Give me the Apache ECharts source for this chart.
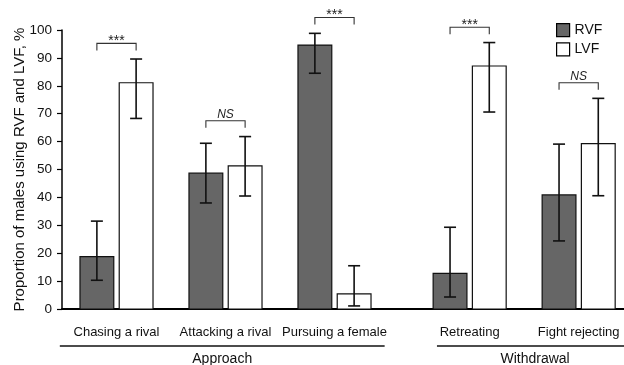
<!DOCTYPE html>
<html>
<head>
<meta charset="utf-8">
<script src="https://cdn.jsdelivr.net/npm/echarts@6/dist/echarts.min.js"></script>
<style>html,body{margin:0;padding:0;background:#fff;}#c{width:624px;height:365px;}</style>
</head>
<body>
<div id="c"></div>
<script>
// ---- data ----
const categories = ['Chasing a rival', 'Attacking a rival', 'Pursuing a female', 'Retreating', 'Fight rejecting'];
const rvf      = [18.8, 48.7, 94.6, 12.8, 40.9];
const rvfLow   = [10.3, 38.0, 84.5, 4.3, 24.4];
const rvfHigh  = [31.5, 59.4, 98.8, 29.3, 59.1];
const lvf      = [81.1, 51.3, 5.4, 87.1, 59.3];
const lvfLow   = [68.3, 40.5, 1.1, 70.6, 40.6];
const lvfHigh  = [89.6, 61.8, 15.5, 95.5, 75.5];
const sigLabels = ['***', 'NS', '***', '***', 'NS'];
const sigLevels = [95.2, 67.5, 104.5, 101.0, 81.1];
const groupNames = ['Approach', 'Withdrawal'];
const groupFirst = [0, 3];
const groupLast = [2, 4];
const yTickMin = 0, yTickMax = 100, yTickStep = 10;

// ---- layout ----
const GROUP_GAP = 0.24;
const groupLineLeft = [0.52, 0.30];
const groupLineRight = [0.46, 0.50];
const BAR_OFF = 0.18, BAR_W = 0.31;
const FONT = "'Liberation Sans', Arial, Helvetica, sans-serif";
function pos(i) { return i + 0.5 + (i >= 3 ? GROUP_GAP : 0); }
const positions = categories.map((c, i) => pos(i));

function barSeries(name, vals, lows, highs, side, color) {
  return {
    name: name,
    type: 'custom',
    clip: false,
    itemStyle: { color: color, borderColor: '#000', borderWidth: 1.2 },
    data: vals.map((v, i) => [pos(i), v, lows[i], highs[i]]),
    renderItem: function (params, api) {
      const unit = api.size([1, 0])[0];
      const top = api.coord([api.value(0), api.value(1)]);
      const base = api.coord([api.value(0), 0]);
      const cx = top[0] + side * BAR_OFF * unit;
      const w = BAR_W * unit;
      const hi = api.coord([api.value(0), api.value(3)])[1];
      const lo = api.coord([api.value(0), api.value(2)])[1];
      const cap = 6;
      const ls = { stroke: '#111', lineWidth: 1.6 };
      return {
        type: 'group',
        children: [
          { type: 'rect', shape: { x: cx - w / 2, y: top[1], width: w, height: base[1] - top[1] },
            style: { fill: color, stroke: '#111', lineWidth: 1.2 } },
          { type: 'line', shape: { x1: cx, y1: hi, x2: cx, y2: lo }, style: ls },
          { type: 'line', shape: { x1: cx - cap, y1: hi, x2: cx + cap, y2: hi }, style: ls },
          { type: 'line', shape: { x1: cx - cap, y1: lo, x2: cx + cap, y2: lo }, style: ls }
        ]
      };
    }
  };
}

const chart = echarts.init(document.getElementById('c'), null, { renderer: 'canvas' });
chart.setOption({
  animation: false,
  backgroundColor: '#fff',
  textStyle: { fontFamily: FONT },
  grid: { left: 62, right: 0, top: 30, bottom: 56, containLabel: false },
  legend: {
    orient: 'vertical', left: 551, top: 18, itemWidth: 13, itemHeight: 13, itemGap: 5,
    textStyle: { fontSize: 14, color: '#111', fontFamily: FONT },
    data: [
      { name: 'RVF', icon: 'rect', itemStyle: { color: '#666', borderColor: '#000', borderWidth: 1.2 } },
      { name: 'LVF', icon: 'rect', itemStyle: { color: '#fff', borderColor: '#000', borderWidth: 1.2 } }
    ]
  },
  xAxis: {
    type: 'value', min: 0, max: 562 / 109,
    axisLine: { show: true, lineStyle: { color: '#000', width: 2 } },
    axisTick: { show: false },
    splitLine: { show: false },
    axisLabel: {
      customValues: positions,
      margin: 17, fontSize: 13, color: '#111', fontFamily: FONT,
      formatter: function (v) {
        let best = 0;
        positions.forEach((p, i) => { if (Math.abs(p - v) < Math.abs(positions[best] - v)) best = i; });
        return categories[best];
      }
    }
  },
  yAxis: {
    type: 'value', min: yTickMin, max: yTickMax, interval: yTickStep,
    name: 'Proportion of males using RVF and LVF, %',
    nameLocation: 'middle', nameRotate: 90, nameGap: 35, nameMoveOverlap: false,
    nameTextStyle: { fontSize: 15, color: '#111', fontFamily: FONT },
    axisLine: { show: true, lineStyle: { color: '#000', width: 1.5 } },
    axisTick: { show: true, inside: false, length: 5, lineStyle: { color: '#000', width: 1.2 } },
    splitLine: { show: false },
    axisLabel: { fontSize: 13.5, color: '#111', margin: 10, fontFamily: FONT }
  },
  series: [
    barSeries('RVF', rvf, rvfLow, rvfHigh, -1, '#666'),
    barSeries('LVF', lvf, lvfLow, lvfHigh, 1, '#fff'),
    {
      type: 'custom', name: 'sig', clip: false, silent: true,
      data: sigLevels.map((lv, i) => [pos(i), lv, i]),
      renderItem: function (params, api) {
        const unit = api.size([1, 0])[0];
        const p = api.coord([api.value(0), api.value(1)]);
        const x1 = p[0] - BAR_OFF * unit, x2 = p[0] + BAR_OFF * unit;
        const y = p[1], drop = 7;
        const label = sigLabels[api.value(2)];
        const isStar = label === '***';
        const ls = { stroke: '#333', lineWidth: 1.1, fill: null };
        return {
          type: 'group',
          children: [
            { type: 'polyline', shape: { points: [[x1, y + drop], [x1, y], [x2, y], [x2, y + drop]] }, style: ls },
            { type: 'text', style: {
                text: label, x: p[0], y: isStar ? y - 2 : y - 6.5, align: 'center', verticalAlign: 'middle',
                font: (isStar ? 'normal 14px ' : 'italic 12px ') + FONT, fill: '#222' } }
          ]
        };
      }
    },
    {
      type: 'custom', name: 'groups', clip: false, silent: true,
      data: groupNames.map((g, k) => [pos(groupFirst[k]) - groupLineLeft[k], pos(groupLast[k]) + groupLineRight[k], k]),
      renderItem: function (params, api) {
        const a = api.coord([api.value(0), 0]);
        const b = api.coord([api.value(1), 0]);
        const y = a[1];
        return {
          type: 'group',
          children: [
            { type: 'line', shape: { x1: a[0], y1: y + 37, x2: b[0], y2: y + 37 }, style: { stroke: '#111', lineWidth: 1.3 } },
            { type: 'text', style: { text: groupNames[api.value(2)], x: (a[0] + b[0]) / 2, y: y + 50,
                align: 'center', verticalAlign: 'middle', font: 'normal 14px ' + FONT, fill: '#111' } }
          ]
        };
      }
    }
  ]
});
</script>
</body>
</html>
